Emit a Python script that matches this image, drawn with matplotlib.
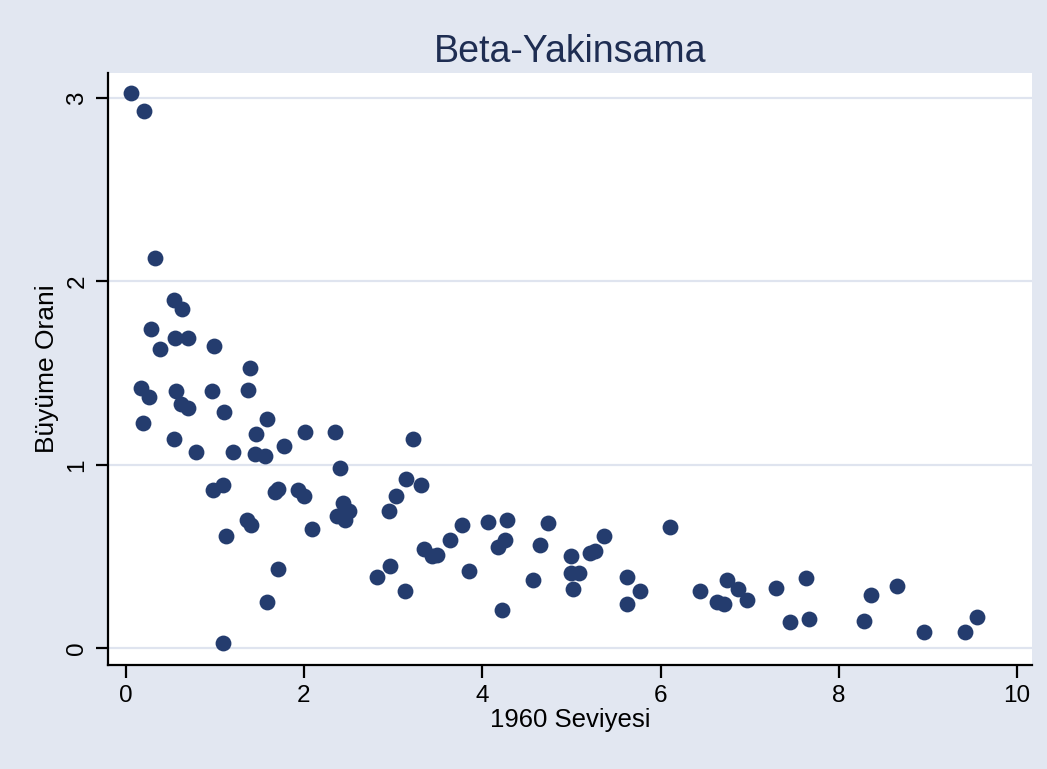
import matplotlib.pyplot as plt
import numpy as np

# 1960 level vs growth rate
seviye_1960 = [0.06, 0.21, 0.33, 0.54, 0.63, 0.28, 0.55, 0.70, 0.39, 0.99,
               1.39, 0.17, 0.26, 0.56, 0.62, 0.70, 0.97, 1.37, 1.10, 0.19,
               1.59, 0.54, 0.79, 1.20, 1.46, 1.45, 1.56, 1.78, 2.01, 2.35,
               3.22, 0.98, 1.09, 1.71, 1.68, 1.93, 2.00, 2.40, 2.44, 2.51,
               2.37, 2.46, 3.14, 3.31, 3.03, 2.95, 2.09, 1.36, 1.41, 1.12,
               1.71, 1.59, 1.09, 2.82, 2.96, 3.13, 3.35, 3.44, 3.49, 3.64,
               3.77, 3.85, 4.06, 4.18, 4.26, 4.28, 4.22, 4.57, 4.65, 4.74,
               5.00, 5.00, 5.08, 5.02, 5.21, 5.26, 5.36, 5.62, 5.77, 5.62,
               6.11, 6.44, 6.63, 6.71, 6.75, 6.87, 6.97, 7.30, 7.45, 7.63,
               7.67, 8.28, 8.36, 8.65, 8.95, 9.42, 9.55]
buyume_orani = [3.03, 2.93, 2.13, 1.90, 1.85, 1.74, 1.69, 1.69, 1.63, 1.65,
                1.53, 1.42, 1.37, 1.40, 1.33, 1.31, 1.40, 1.41, 1.29, 1.23,
                1.25, 1.14, 1.07, 1.07, 1.17, 1.06, 1.05, 1.10, 1.18, 1.18,
                1.14, 0.86, 0.89, 0.87, 0.85, 0.86, 0.83, 0.98, 0.79, 0.75,
                0.72, 0.70, 0.92, 0.89, 0.83, 0.75, 0.65, 0.70, 0.67, 0.61,
                0.43, 0.25, 0.03, 0.39, 0.45, 0.31, 0.54, 0.50, 0.51, 0.59,
                0.67, 0.42, 0.69, 0.55, 0.59, 0.70, 0.21, 0.37, 0.56, 0.68,
                0.50, 0.41, 0.41, 0.32, 0.52, 0.53, 0.61, 0.39, 0.31, 0.24,
                0.66, 0.31, 0.25, 0.24, 0.37, 0.32, 0.26, 0.33, 0.14, 0.38,
                0.16, 0.15, 0.29, 0.34, 0.09, 0.09, 0.17]

x_ticks = [0, 2, 4, 6, 8, 10]
y_ticks = [0, 1, 2, 3]

plt.rcParams['font.family'] = ['Liberation Sans', 'DejaVu Sans']

bg = '#e2e7f1'
navy = '#243c6e'

fig = plt.figure(figsize=(10.47, 7.69), dpi=100, facecolor=bg)
ax = fig.add_axes([0.103, 0.135, 0.883, 0.770])
ax.set_facecolor('white')

ax.scatter(seviye_1960, buyume_orani, s=130, color=navy, linewidths=0, zorder=3)

ax.set_xlim(-0.2, 10.17)
ax.set_ylim(-0.093, 3.137)
ax.set_xticks(x_ticks)
ax.set_yticks(y_ticks)
ax.grid(axis='y', color='#dfe4ef', linewidth=1.6, zorder=1)
ax.set_axisbelow(True)

for side in ['top', 'right']:
    ax.spines[side].set_visible(False)
for side in ['left', 'bottom']:
    ax.spines[side].set_linewidth(1.6)
    ax.spines[side].set_color('black')

ax.tick_params(axis='both', length=9, width=1.6, labelsize=17.5, pad=5, colors='black')
plt.setp(ax.get_yticklabels(), rotation=90, va='center')

ax.set_xlabel('1960 Seviyesi', fontsize=18.5, labelpad=1)
ax.set_ylabel('Büyüme Orani', fontsize=19, labelpad=5)
ax.set_title('Beta-Yakinsama', fontsize=27, color='#1e2d52', pad=8)

fig.savefig('out.png', dpi=100, facecolor=bg)
